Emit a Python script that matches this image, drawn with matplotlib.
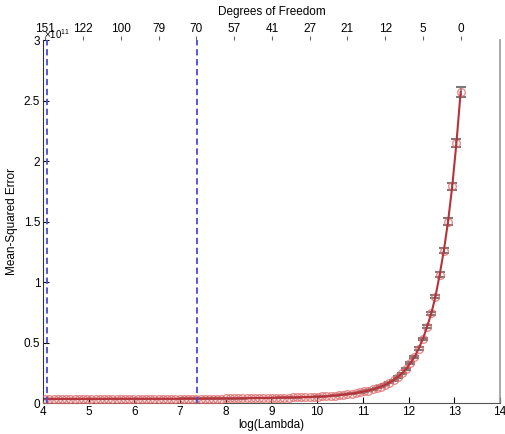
import matplotlib
matplotlib.use('Agg')
import matplotlib.pyplot as plt
import numpy as np

plt.rcParams['font.family'] = ['Liberation Sans', 'DejaVu Sans']
plt.rcParams['mathtext.fontset'] = 'custom'
plt.rcParams['mathtext.rm'] = 'Liberation Sans'

# сітка lambda (рівномірна в log, 100 значень як у lasso)
log_lambda = np.linspace(4.05, 13.14, 100)

# MSE (x 1e11)
mse = [0.034, 0.034, 0.034, 0.034, 0.034, 0.034, 0.034, 0.034, 0.034, 0.034,
       0.034, 0.034, 0.034, 0.034, 0.034, 0.035, 0.035, 0.035, 0.035, 0.035,
       0.035, 0.035, 0.035, 0.035, 0.035, 0.035, 0.035, 0.035, 0.035, 0.035,
       0.035, 0.035, 0.035, 0.036, 0.036, 0.036, 0.036, 0.036, 0.036, 0.037,
       0.037, 0.037, 0.037, 0.038, 0.038, 0.038, 0.039, 0.039, 0.040, 0.040,
       0.041, 0.041, 0.042, 0.042, 0.043, 0.043, 0.044, 0.045, 0.045, 0.046,
       0.047, 0.048, 0.049, 0.050, 0.051, 0.052, 0.054, 0.056, 0.059, 0.062,
       0.065, 0.069, 0.073, 0.078, 0.083, 0.089, 0.096, 0.103, 0.112, 0.123,
       0.135, 0.150, 0.168, 0.190, 0.215, 0.245, 0.280, 0.330, 0.380, 0.450,
       0.530, 0.630, 0.740, 0.880, 1.060, 1.260, 1.500, 1.790, 2.150, 2.570]

# стандартна похибка
se = [0.002, 0.002, 0.002, 0.002, 0.002, 0.002, 0.002, 0.002, 0.002, 0.002,
      0.002, 0.002, 0.002, 0.002, 0.002, 0.002, 0.002, 0.002, 0.002, 0.002,
      0.002, 0.002, 0.002, 0.002, 0.002, 0.002, 0.002, 0.002, 0.002, 0.002,
      0.002, 0.002, 0.002, 0.002, 0.002, 0.002, 0.002, 0.002, 0.002, 0.002,
      0.002, 0.002, 0.002, 0.002, 0.002, 0.002, 0.002, 0.002, 0.002, 0.002,
      0.002, 0.002, 0.002, 0.002, 0.002, 0.002, 0.002, 0.002, 0.002, 0.002,
      0.002, 0.002, 0.002, 0.002, 0.002, 0.002, 0.002, 0.002, 0.002, 0.002,
      0.002, 0.002, 0.002, 0.002, 0.002, 0.003, 0.003, 0.003, 0.003, 0.003,
      0.003, 0.004, 0.004, 0.004, 0.005, 0.005, 0.006, 0.007, 0.008, 0.009,
      0.010, 0.012, 0.014, 0.016, 0.019, 0.022, 0.026, 0.030, 0.034, 0.042]

# ступені свободи (верхня вісь) — кожна 9-та lambda
df_ticks_idx = [0, 9, 18, 27, 36, 45, 54, 63, 72, 81, 90, 99]
df_labels = ['151', '122', '100', '79', '70', '57', '41', '27', '21', '12', '5', '0']

# вертикальні лінії: мінімум MSE та 1SE
lambda_min = 4.09
lambda_1se = 7.36

fig = plt.figure(figsize=(5.06, 4.34), dpi=100)
ax = fig.add_axes([0.085, 0.0714, 0.903, 0.8364])

ax.errorbar(log_lambda, mse, yerr=se, fmt='none', ecolor='#7a7a7a',
            elinewidth=1.2, capsize=3.5, capthick=1.5, zorder=2)
ax.plot(log_lambda, mse, 'o', mfc='none', mec='#e26a6a', ms=5.5, mew=1.0,
        alpha=0.75, zorder=3)
ax.plot(log_lambda, mse, '-', color='#b8323a', lw=1.5, zorder=4)

for xv in (lambda_min, lambda_1se):
    ax.axvline(xv, color='#4a4ad8', ls=(0, (3.5, 2)), lw=1.3, zorder=5)

ax.set_xlim(4, 14)
ax.set_ylim(0, 3)
ax.set_xticks(range(4, 15))
ax.set_yticks([0, 0.5, 1, 1.5, 2, 2.5, 3])
ax.set_yticklabels(['0', '0.5', '1', '1.5', '2', '2.5', '3'])
ax.tick_params(direction='in', length=4, labelsize=8.5, width=0.8, pad=2)
ax.set_xlabel('log(Lambda)', fontsize=8.5, labelpad=1)
ax.set_ylabel('Mean-Squared Error', fontsize=8.5, labelpad=4)

ax.spines['top'].set_visible(False)
ax.spines['left'].set_color('#333333')
ax.spines['bottom'].set_color('#555555')
ax.spines['right'].set_color('#999999')
ax.spines['right'].set_linewidth(1.2)

# множник осі Y
ax.text(4.03, 2.99, r'$\times10^{11}$', fontsize=7, va='bottom', ha='left')

# верхня вісь
ax2 = ax.twiny()
ax2.set_xlim(ax.get_xlim())
ax2.set_xticks([log_lambda[i] for i in df_ticks_idx])
ax2.set_xticklabels(df_labels, fontsize=8.5)
ax2.tick_params(direction='out', length=3, width=0.8, color='#666666', pad=0.5)
for s in ax2.spines.values():
    s.set_visible(False)
ax2.set_xlabel('Degrees of Freedom', fontsize=8.5, labelpad=6)

fig.savefig('out.png', dpi=100)
